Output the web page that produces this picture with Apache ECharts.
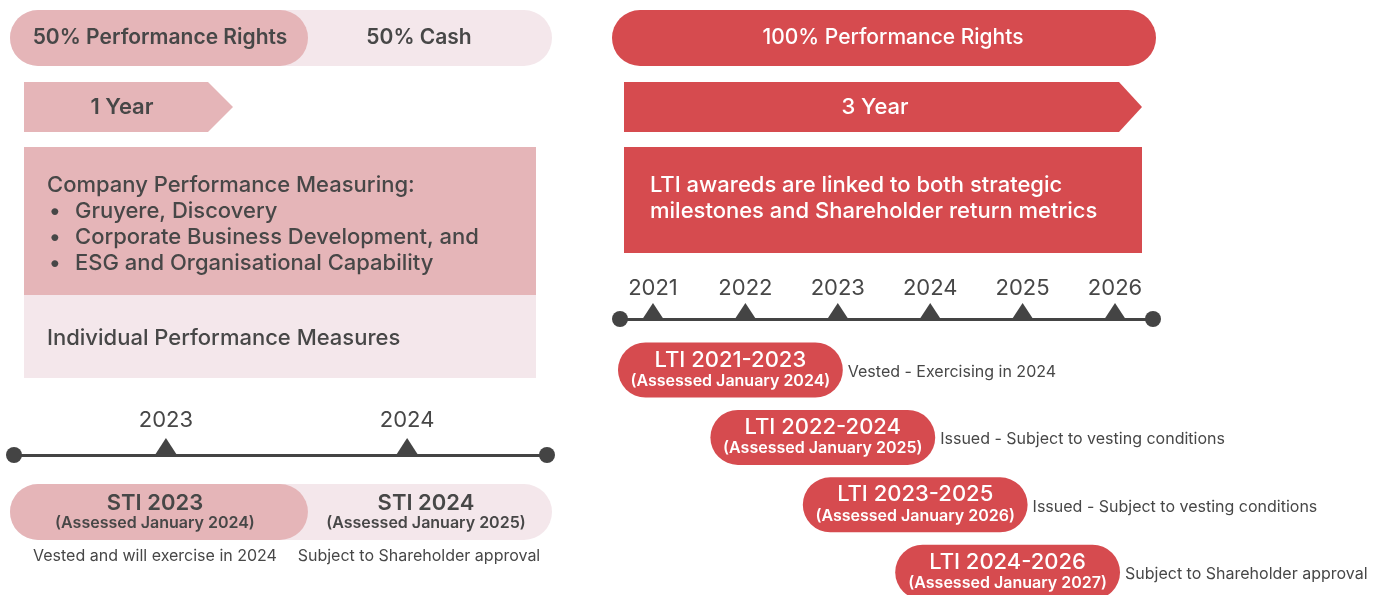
<!DOCTYPE html>
<html><head><meta charset="utf-8">
<script src="https://cdn.jsdelivr.net/npm/echarts@6/dist/echarts.min.js"></script>
<style>html,body{margin:0;padding:0;background:#fff}#c{width:1381px;height:595px}</style>
</head><body><div id="c"></div>
<script>
// ---------- data ----------
const stiMix = ['50% Performance Rights', '50% Cash'];
const ltiMix = ['100% Performance Rights'];
const stiPeriod = '1 Year';
const ltiPeriod = '3 Year';
const stiCompanyHeading = 'Company Performance Measuring:';
const stiCompanyMeasures = ['Gruyere, Discovery', 'Corporate Business Development, and', 'ESG and Organisational Capability'];
const stiIndividual = 'Individual Performance Measures';
const ltiDescription = ['LTI awareds are linked to both strategic', 'milestones and Shareholder return metrics'];

const stiYears = [2023, 2024];
const stiTitles = ['STI 2023', 'STI 2024'];
const stiAssessed = ['(Assessed January 2024)', '(Assessed January 2025)'];
const stiStatus = ['Vested and will exercise in 2024', 'Subject to Shareholder approval'];

const ltiYears = [2021, 2022, 2023, 2024, 2025, 2026];
const ltiStart = [2021, 2022, 2023, 2024];
const ltiEnd = [2023, 2024, 2025, 2026];
const ltiTitles = ['LTI 2021-2023', 'LTI 2022-2024', 'LTI 2023-2025', 'LTI 2024-2026'];
const ltiAssessed = ['(Assessed January 2024)', '(Assessed January 2025)', '(Assessed January 2026)', '(Assessed January 2027)'];
const ltiStatus = ['Vested - Exercising in 2024', 'Issued - Subject to vesting conditions', 'Issued - Subject to vesting conditions', 'Subject to Shareholder approval'];

// ---------- styles ----------
const FONT = 'Inter, "Noto Sans", sans-serif';
const PINK = '#e5b5b8';
const PALE = '#f4e7eb';
const RED = '#d64b4f';
const INK = '#474747';
const LINE = '#444444';

const chart = echarts.init(document.getElementById('c'), null, {renderer: 'canvas'});

function timelineAxis(gridIndex, min, max, years, margin) {
  return {
    type: 'value', gridIndex, min, max, position: 'top',
    axisLine: {show: true, onZero: false, symbol: ['circle', 'circle'], symbolSize: [16, 16],
      lineStyle: {color: LINE, width: 3}},
    axisTick: {show: false}, splitLine: {show: false},
    axisLabel: {show: true, customValues: years, formatter: v => String(v), fontSize: 22,
      color: INK, fontFamily: FONT, margin}
  };
}
function hiddenX(gridIndex, min, max) {
  return {type: 'value', gridIndex, min, max, show: false, splitLine: {show: false}};
}

const txt = (text, x, y, o) => Object.assign({type: 'text', style: Object.assign({text, x, y,
  fontFamily: FONT, fontSize: 22, fill: INK, align: 'left', verticalAlign: 'middle'}, o || {})});

const graphics = [
  // STI header pill
  {type: 'rect', shape: {x: 10, y: 10, width: 542, height: 56, r: 28}, style: {fill: PALE}},
  {type: 'rect', shape: {x: 10, y: 10, width: 298, height: 56, r: 28}, style: {fill: PINK}},
  txt(stiMix[0], 160, 38, {align: 'center', fontWeight: 600, fontSize: 21}),
  txt(stiMix[1], 419, 38, {align: 'center', fontWeight: 600, fontSize: 21}),
  // STI period arrow
  {type: 'polygon', shape: {points: [[24, 82], [208, 82], [233, 107], [208, 132], [24, 132]]}, style: {fill: PINK}},
  txt(stiPeriod, 122, 107, {align: 'center', fontWeight: 600}),
  // STI measures box
  {type: 'rect', shape: {x: 24, y: 147, width: 512, height: 148}, style: {fill: PINK}},
  {type: 'rect', shape: {x: 24, y: 295, width: 512, height: 83}, style: {fill: PALE}},
  txt(stiCompanyHeading, 47, 185, {fontWeight: 500}),
  ...stiCompanyMeasures.flatMap((m, i) => [
    txt('\u2022', 49, 211 + i * 26, {fontWeight: 500}),
    txt(m, 75, 211 + i * 26, {fontWeight: 500})
  ]),
  txt(stiIndividual, 47, 338, {fontWeight: 500}),
  // LTI header pill
  {type: 'rect', shape: {x: 612, y: 10, width: 544, height: 56, r: 28}, style: {fill: RED}},
  txt(ltiMix[0], 893, 38, {align: 'center', fontWeight: 500, fontSize: 21, fill: '#fff'}),
  // LTI period arrow
  {type: 'polygon', shape: {points: [[624, 82], [1119, 82], [1142, 107], [1119, 132], [624, 132]]}, style: {fill: RED}},
  txt(ltiPeriod, 875, 107, {align: 'center', fontWeight: 500, fill: '#fff'}),
  // LTI description box
  {type: 'rect', shape: {x: 624, y: 147, width: 518, height: 106}, style: {fill: RED}},
  txt(ltiDescription[0], 650, 185, {fontWeight: 500, fill: '#fff'}),
  txt(ltiDescription[1], 650, 211, {fontWeight: 500, fill: '#fff'})
];

const option = {
  backgroundColor: '#ffffff',
  animation: false,
  grid: [
    {left: 14, top: 455, width: 533, height: 1},     // STI timeline
    {left: 14, top: 484, width: 533, height: 56},    // STI pills
    {left: 620, top: 319, width: 533, height: 1},    // LTI timeline
    {left: 620, top: 336, width: 533, height: 250}   // LTI pills
  ],
  xAxis: [
    timelineAxis(0, 2022.37, 2024.58, stiYears, 24),
    hiddenX(1, 2022.37, 2024.58),
    timelineAxis(2, 2020.643, 2026.411, ltiYears, 20),
    hiddenX(3, 2020.643, 2026.411)
  ],
  yAxis: [
    {type: 'value', gridIndex: 0, min: 0, max: 1, inverse: true, show: false},
    {type: 'category', gridIndex: 1, data: ['STI'], show: false},
    {type: 'value', gridIndex: 2, min: 0, max: 1, inverse: true, show: false},
    {type: 'value', gridIndex: 3, min: -0.5045, max: 3.2047, inverse: true, show: false}
  ],
  graphic: graphics,
  series: [
    {type: 'scatter', xAxisIndex: 0, yAxisIndex: 0, symbol: 'triangle', symbolSize: [22, 17],
      symbolOffset: [0, -8.5], itemStyle: {color: LINE, opacity: 1}, silent: true,
      data: stiYears.map(y => [y, 0])},
    {type: 'scatter', xAxisIndex: 2, yAxisIndex: 2, symbol: 'triangle', symbolSize: [21, 16],
      symbolOffset: [0, -8], itemStyle: {color: LINE, opacity: 1}, silent: true,
      data: ltiYears.map(y => [y, 0])},
    {type: 'custom', xAxisIndex: 1, yAxisIndex: 1, silent: true,
      data: stiYears.map((y, i) => [y, 0, i]),
      renderItem(params, api) {
        const i = api.value(2);
        const cs = params.coordSys;
        const n = stiYears.length;
        const left0 = cs.x - 4;
        const rightEnd = cs.x + cs.width + 5;
        const boundary = k => api.coord([stiYears[k], 0])[0] + 142;
        const visL = i === 0 ? left0 : boundary(i - 1);
        const visR = i === n - 1 ? rightEnd : boundary(i);
        const cy = api.coord([stiYears[i], 0])[1];
        const cx = (visL + visR) / 2 - 4;
        const capX = i === n - 1 ? cx - 7 : cx;
        return {type: 'group', children: [
          {type: 'rect', z2: 10 - i, shape: {x: left0, y: cy - 28, width: visR - left0, height: 56, r: 28},
            style: {fill: i === 0 ? PINK : PALE}},
          {type: 'text', z2: 20, style: {text: stiTitles[i], x: cx, y: cy - 9, align: 'center', verticalAlign: 'middle',
            fontFamily: FONT, fontSize: 22, fontWeight: 600, fill: INK}},
          {type: 'text', z2: 20, style: {text: stiAssessed[i], x: cx, y: cy + 11, align: 'center', verticalAlign: 'middle',
            fontFamily: FONT, fontSize: 16, fontWeight: 600, fill: INK}},
          {type: 'text', z2: 20, style: {text: stiStatus[i], x: capX, y: cy + 44, align: 'center', verticalAlign: 'middle',
            fontFamily: FONT, fontSize: 16, fontWeight: 400, fill: INK}}
        ]};
      }
    },
    {type: 'custom', xAxisIndex: 3, yAxisIndex: 3, silent: true,
      data: ltiStart.map((s, i) => [s, ltiEnd[i], i]),
      renderItem(params, api) {
        const i = api.value(2);
        const a = api.coord([api.value(0), i]);
        const b = api.coord([api.value(1), i]);
        const left = a[0] - 35, right = b[0] + 5, cy = a[1];
        const cx = (left + right) / 2;
        return {type: 'group', children: [
          {type: 'rect', shape: {x: left, y: cy - 27.5, width: right - left, height: 55, r: 27.5}, style: {fill: RED}},
          {type: 'text', style: {text: ltiTitles[i], x: cx, y: cy - 10, align: 'center', verticalAlign: 'middle',
            fontFamily: FONT, fontSize: 22, fontWeight: 500, fill: '#fff'}},
          {type: 'text', style: {text: ltiAssessed[i], x: cx, y: cy + 11, align: 'center', verticalAlign: 'middle',
            fontFamily: FONT, fontSize: 16, fontWeight: 600, fill: '#fff'}},
          {type: 'text', style: {text: ltiStatus[i], x: right + 5, y: cy + 2, align: 'left', verticalAlign: 'middle',
            fontFamily: FONT, fontSize: 16, fontWeight: 400, fill: INK}}
        ]};
      }
    }
  ]
};
chart.setOption(option);
</script></body></html>
